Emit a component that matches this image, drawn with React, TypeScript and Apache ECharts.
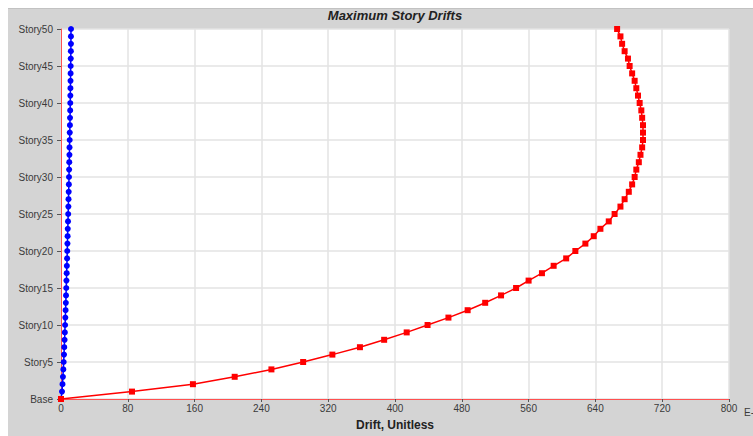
import React, { useEffect, useRef } from "react";
import * as echarts from "echarts";

const stories: string[] = [
  "Base", "Story1", "Story2", "Story3", "Story4", "Story5", "Story6", "Story7", "Story8", "Story9", "Story10",
  "Story11", "Story12", "Story13", "Story14", "Story15", "Story16", "Story17", "Story18", "Story19", "Story20",
  "Story21", "Story22", "Story23", "Story24", "Story25", "Story26", "Story27", "Story28", "Story29", "Story30",
  "Story31", "Story32", "Story33", "Story34", "Story35", "Story36", "Story37", "Story38", "Story39", "Story40",
  "Story41", "Story42", "Story43", "Story44", "Story45", "Story46", "Story47", "Story48", "Story49", "Story50",
];

// Drift values (E-6), one per story from Base up to Story50
const driftX: number[] = [
  0, 85, 158, 208, 252, 290, 325, 358, 387, 414, 439,
  464, 487, 508, 527, 545, 560, 576, 590, 605, 616,
  628, 638, 646, 656, 663, 670, 675, 680, 684, 687,
  689, 692, 694, 696, 697, 697, 697, 696, 695, 693,
  691, 689, 687, 684, 681, 679, 675, 672, 670, 666,
];

const driftY: number[] = [
  0, 1.2, 1.8, 2.3, 2.8, 3.2, 3.6, 3.9, 4.3, 4.6, 4.9,
  5.2, 5.5, 5.8, 6.0, 6.3, 6.5, 6.8, 7.0, 7.3, 7.5,
  7.7, 7.9, 8.1, 8.4, 8.6, 8.8, 9.0, 9.2, 9.4, 9.6,
  9.7, 9.9, 10.1, 10.2, 10.4, 10.5, 10.7, 10.8, 11.0, 11.1,
  11.2, 11.3, 11.4, 11.5, 11.6, 11.7, 11.8, 11.9, 11.9, 12.0,
];

const xMin = 0;
const xMax = 800;
const xStep = 80;

export default function App() {
  const ref = useRef<HTMLDivElement>(null);

  useEffect(() => {
    if (!ref.current) return;
    const chart = echarts.init(ref.current, null, { renderer: "svg" });
    const labelFont = { fontFamily: "Liberation Sans, Arial, sans-serif", fontSize: 10, color: "#3a3a3a" };
    chart.setOption({
      animation: false,
      backgroundColor: "#d4d4d4",
      title: {
        text: "Maximum Story Drifts",
        left: 387,
        top: 1,
        padding: 0,
        textAlign: "center",
        textStyle: {
          fontFamily: "Liberation Sans, Arial, sans-serif",
          fontSize: 13,
          fontWeight: "bold",
          fontStyle: "italic",
          color: "#222",
        },
      },
      graphic: [
        {
          type: "line",
          shape: { x1: 0, y1: 0, x2: 745, y2: 0 },
          style: { stroke: "#bcbcbc", lineWidth: 1.5 },
        },
        {
          type: "text",
          x: 736,
          y: 399,
          style: { text: "E-6", font: "10px Liberation Sans, Arial, sans-serif", fill: "#3a3a3a" },
        },
      ],
      grid: {
        left: 53,
        right: 24,
        top: 21,
        bottom: 31,
        show: true,
        backgroundColor: "#ffffff",
        borderWidth: 0,
      },
      xAxis: {
        type: "value",
        min: xMin,
        max: xMax,
        interval: xStep,
        name: "Drift, Unitless",
        nameLocation: "middle",
        nameGap: 20,
        nameTextStyle: {
          fontFamily: "Liberation Sans, Arial, sans-serif",
          fontSize: 12,
          fontWeight: "bold",
          color: "#222",
        },
        axisLine: { show: true, lineStyle: { color: "#ff5050", width: 1 } },
        axisTick: { show: true, length: 3, lineStyle: { color: "#555" } },
        axisLabel: { ...labelFont, margin: 4 },
        splitLine: { show: true, lineStyle: { color: "#e3e3e3", width: 1.5 } },
      },
      yAxis: {
        type: "category",
        data: stories,
        boundaryGap: false,
        axisLine: { show: true, lineStyle: { color: "#ff5050", width: 1 } },
        axisTick: { show: true, length: 4, interval: 4, lineStyle: { color: "#555" } },
        axisLabel: { ...labelFont, interval: 4, margin: 8 },
        splitLine: { show: true, interval: 4, lineStyle: { color: "#e3e3e3", width: 1.5 } },
      },
      series: [
        {
          name: "Drift Y",
          type: "line",
          data: driftY,
          symbol: "circle",
          symbolSize: 6,
          showAllSymbol: true,
          lineStyle: { color: "#0000ff", width: 1.5 },
          itemStyle: { color: "#0000ff" },
          z: 3,
        },
        {
          name: "Drift X",
          type: "line",
          data: driftX,
          symbol: "rect",
          symbolSize: 6,
          showAllSymbol: true,
          lineStyle: { color: "#ff0000", width: 1.5 },
          itemStyle: { color: "#ff0000" },
          z: 4,
        },
      ],
    });
    return () => chart.dispose();
  }, []);

  return (
    <div
      ref={ref}
      style={{ position: "absolute", left: 8, top: 8, width: 745, height: 428 }}
    />
  );
}
